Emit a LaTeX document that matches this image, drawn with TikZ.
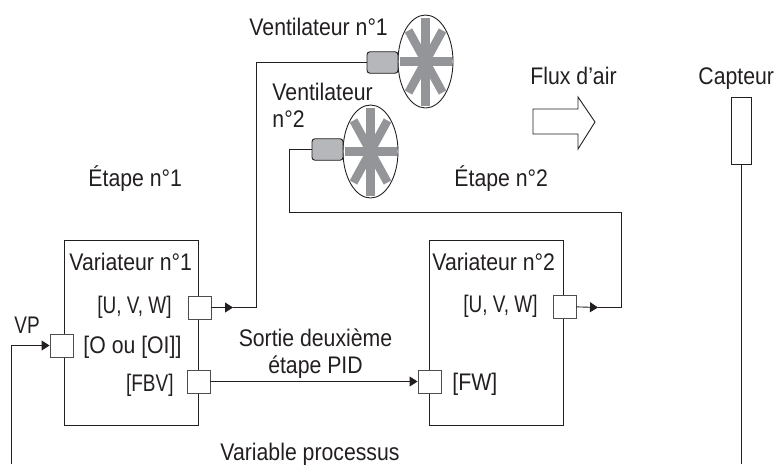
\documentclass[tikz,border=0pt]{standalone}
\usepackage{fontspec}
\setmainfont[FakeStretch=0.885]{Liberation Sans}
\newfontfamily\tightfont[FakeStretch=0.79]{Liberation Sans}
\usetikzlibrary{arrows.meta,shapes.geometric}
\definecolor{ink}{HTML}{231F20}
\definecolor{bladegray}{HTML}{939598}
\definecolor{motorgray}{HTML}{B5B7BA}
\begin{document}
\begin{tikzpicture}[
    x=1pt, y=-1pt,
    >={Triangle[length=8pt,width=10pt]},
    line width=0.9pt,
    every node/.style={text=ink, font=\fontsize{24}{27}\selectfont},
    txt/.style={inner sep=0pt},
    tight/.style={inner sep=0pt, font=\fontsize{24}{27}\tightfont},
    box/.style={draw=ink, minimum width=134.5pt, minimum height=185pt, inner sep=0pt},
    port/.style={draw=ink!80, fill=white, minimum size=23pt, inner sep=0pt},
    fan/.style={draw=ink, ellipse, minimum width=55pt, minimum height=93pt, inner sep=0pt},
    motor/.style={draw=ink, fill=motorgray, rounded corners=3pt, minimum width=31pt, minimum height=21.5pt, inner sep=0pt},
    blade/.style={draw=bladegray, line width=8.5pt}
]
\useasboundingbox (0,0) rectangle (774,464);

\node (var1)  [box] at (131.3,332.5) {};
\node (var2)  [box] at (496.5,332.5) {};
\node (uvw1)  [port] at (199.5,307.5) {};
\node (oin)   [port] at (61.5,345.5) {};
\node (fbv)   [port] at (198.5,381.5) {};
\node (uvw2)  [port] at (564.5,306.5) {};
\node (fw)    [port] at (429.5,381.5) {};

\node (fan1)   [fan] at (425.5,61.5) {};
\node (fan2)   [fan] at (370.5,151.5) {};
\node (motor1) [motor] at (382.5,62.5) {};
\node (motor2) [motor] at (327.5,149.5) {};
\node (sensor) [draw=ink, minimum width=20pt, minimum height=67pt, inner sep=0pt] at (741,130.5) {};

% Blades
\foreach \f in {fan1,fan2}{
  \foreach \a/\b in {26/0,0/44,17/31,-17/31}{
    \draw[blade] (\f.center) ++(\a,\b) -- ++(-2*\a,-2*\b);
  }
}

% Air flow
\draw[draw=ink] (533,109) -- (578,109) -- (578,97) -- (595,122) -- (578,149) -- (578,134) -- (533,134) -- cycle;

% Labels
\node (vent1)  [txt,anchor=base west] at (249,35) {Ventilateur n°1};
\node (vent2)  [txt,anchor=base west,align=left] at (272,127) {Ventilateur\\n°2};
\node (step1)  [txt,anchor=base west] at (88,186) {Étape n°1};
\node (step2)  [txt,anchor=base west] at (454,186) {Étape n°2};
\node (air)    [txt,anchor=base west] at (530,84) {Flux d’air};
\node (capt)   [txt,anchor=base west] at (698,84) {Capteur};
\node (name1)  [txt,anchor=base west] at (69,270) {Variateur n°1};
\node (name2)  [txt,anchor=base west] at (432,270) {Variateur n°2};
\node (lu1)    [tight,anchor=base east] at (172,313) {[U, V, W]};
\node (lo)     [txt,anchor=base west] at (83,353) {[O ou [OI]]};
\node (lf)     [tight,anchor=base east] at (174,391) {[FBV]};
\node (lu2)    [tight,anchor=base east] at (538,312) {[U, V, W]};
\node (lw)     [txt,anchor=base west] at (452,390) {[FW]};
\node (vp)     [tight,anchor=base west] at (14,333) {VP};
\node (sortie) [txt,anchor=base,align=center] at (315.5,373) {Sortie deuxième\\étape PID};
\node (proc)   [txt,anchor=base] at (310,460) {Variable processus};

% Edges
\coordinate (tip1) at (233,307.5);
\coordinate (tip2) at (598,307.5);
\coordinate (vpend) at (11,464);
\coordinate (sensend) at (741,464);

\draw[->,ink] (uvw1) -- (tip1);
\draw[ink] (tip1) -| (256,62.5) -- (motor1);
\draw[->,ink] (uvw2) -- (tip2);
\draw[ink] (tip2) -| (621,212) -| (289,149.5) -- (motor2);
\draw[->,ink] (fbv) -- (fw);
\draw[->,ink] (vpend) |- (oin);
\draw[ink] (sensor) -- (sensend);

\end{tikzpicture}
\end{document}
